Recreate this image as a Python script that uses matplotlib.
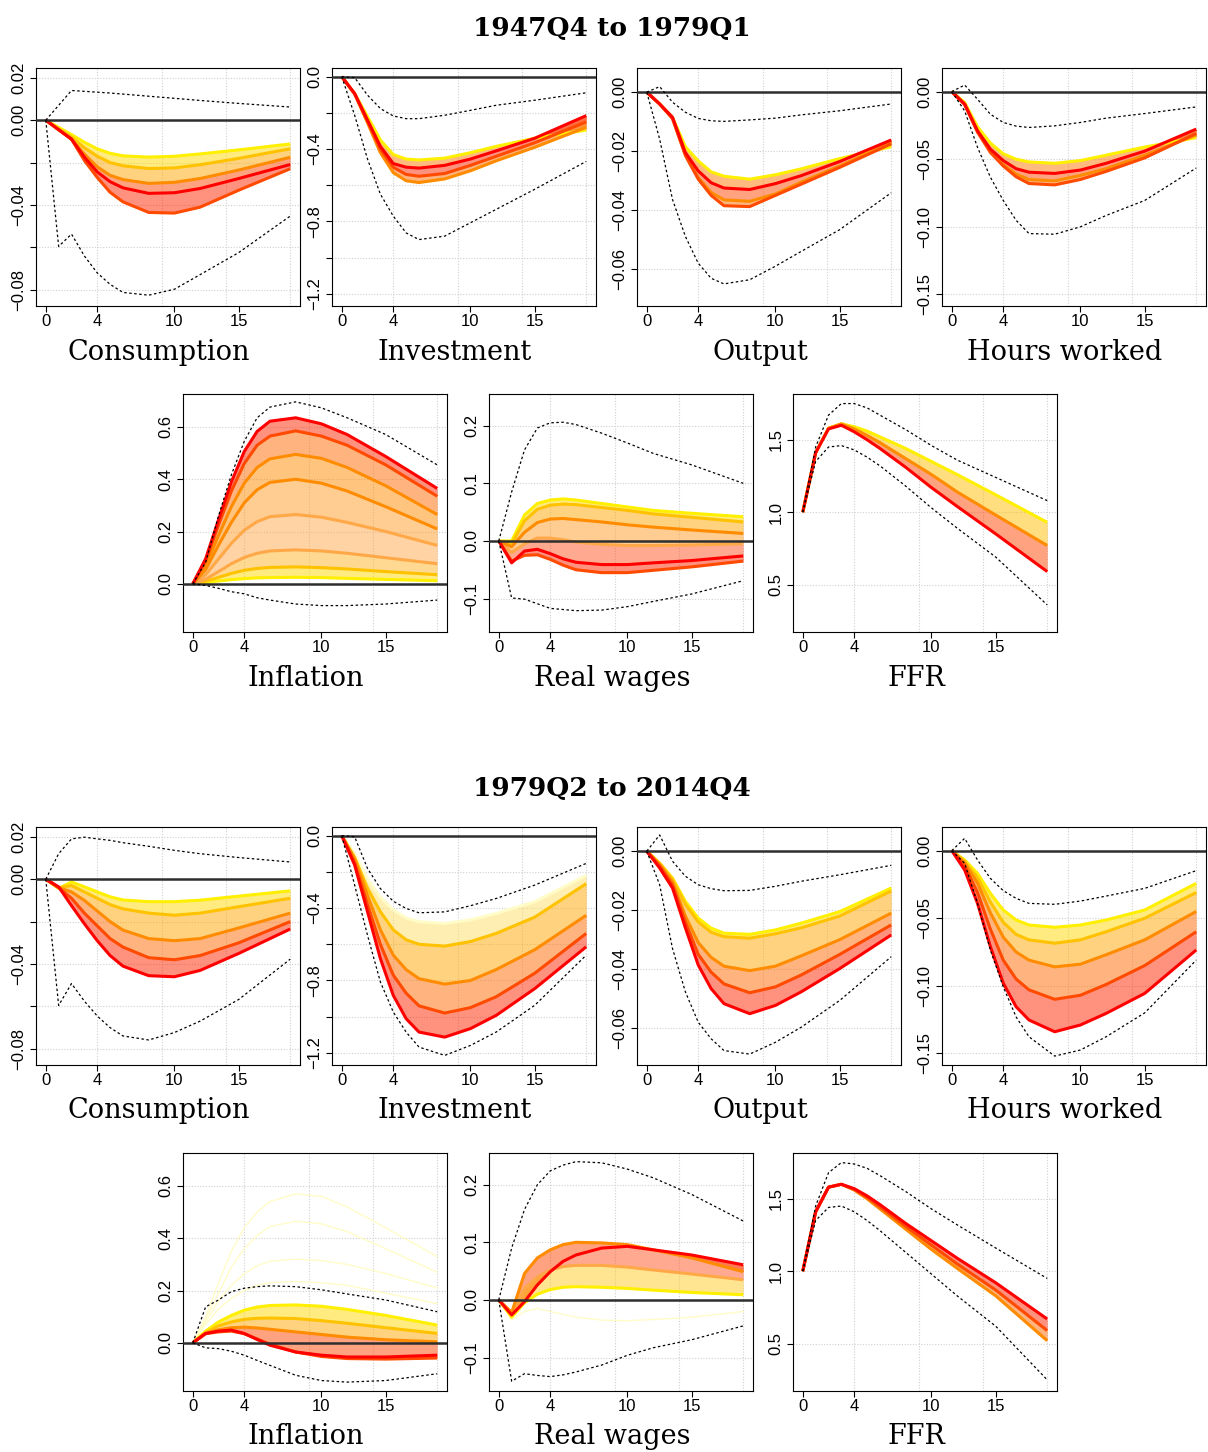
import matplotlib
matplotlib.use("Agg")
import matplotlib.pyplot as plt
import matplotlib.colors as mcolors
import numpy as np

H = [0, 1, 2, 3, 4, 5, 6, 8, 10, 12, 15, 19]

# ---------------- 1947Q4 to 1979Q1 ----------------
cons_a_hi = [0, 0.007, 0.014, 0.0136, 0.0132, 0.0128, 0.0123, 0.0113, 0.0103, 0.0093, 0.0079, 0.0062]
cons_a_lo = [0, -0.0595, -0.0537, -0.064, -0.072, -0.0774, -0.0812, -0.0825, -0.0797, -0.0728, -0.0624, -0.0452]
cons_a = [
    [0, -0.0034, -0.0068, -0.0104, -0.0135, -0.0156, -0.0168, -0.0174, -0.0170, -0.0159, -0.0140, -0.0112],
    [0, -0.0040, -0.0080, -0.0130, -0.0170, -0.0200, -0.0215, -0.0228, -0.0225, -0.0210, -0.0180, -0.0135],
    [0, -0.0045, -0.0090, -0.0160, -0.0220, -0.0260, -0.0280, -0.0298, -0.0293, -0.0275, -0.0235, -0.0175],
    [0, -0.0045, -0.0089, -0.0174, -0.0244, -0.0290, -0.0319, -0.0345, -0.0342, -0.0322, -0.0275, -0.0209],
    [0, -0.0045, -0.0090, -0.0190, -0.0270, -0.0340, -0.0385, -0.0435, -0.0438, -0.0410, -0.0330, -0.0229],
]
cons_a_col = ['y', 'g', 'o', 'r', 'ro']

inv_a_hi = [0, -0.005, -0.102, -0.176, -0.217, -0.232, -0.232, -0.213, -0.186, -0.158, -0.130, -0.089]
inv_a_lo = [0, -0.213, -0.455, -0.649, -0.770, -0.863, -0.900, -0.881, -0.807, -0.733, -0.622, -0.468]
inv_a = [
    [0, -0.093, -0.220, -0.350, -0.430, -0.455, -0.460, -0.450, -0.420, -0.385, -0.340, -0.295],
    [0, -0.093, -0.240, -0.385, -0.480, -0.500, -0.505, -0.490, -0.455, -0.410, -0.340, -0.215],
    [0, -0.095, -0.245, -0.400, -0.500, -0.540, -0.550, -0.535, -0.490, -0.440, -0.365, -0.250],
    [0, -0.095, -0.255, -0.420, -0.530, -0.575, -0.585, -0.565, -0.520, -0.465, -0.390, -0.280],
]
inv_a_col = ['y', 'r', 'ro', 'o']

out_a_hi = [0, 0.0019, -0.0034, -0.0068, -0.0089, -0.0097, -0.0099, -0.0094, -0.0088, -0.0077, -0.0063, -0.0040]
out_a_lo = [0, -0.0159, -0.0364, -0.0489, -0.0580, -0.0631, -0.0650, -0.0636, -0.0590, -0.0540, -0.0466, -0.0341]
out_a = [
    [0, -0.0040, -0.0085, -0.0185, -0.0233, -0.0270, -0.0285, -0.0295, -0.0280, -0.0260, -0.0225, -0.0185],
    [0, -0.0040, -0.0085, -0.0205, -0.0267, -0.0307, -0.0325, -0.0330, -0.0310, -0.0283, -0.0235, -0.0162],
    [0, -0.0040, -0.0088, -0.0210, -0.0290, -0.0340, -0.0365, -0.0370, -0.0345, -0.0305, -0.0250, -0.0172],
    [0, -0.0040, -0.0090, -0.0215, -0.0295, -0.0350, -0.0385, -0.0388, -0.0350, -0.0312, -0.0255, -0.0175],
]
out_a_col = ['y', 'r', 'o', 'ro']

hrs_a_hi = [0, 0.0049, -0.0056, -0.0167, -0.0228, -0.0255, -0.0265, -0.0253, -0.0228, -0.0196, -0.0162, -0.0113]
hrs_a_lo = [0, -0.0142, -0.0412, -0.0633, -0.0805, -0.0952, -0.1050, -0.1055, -0.1000, -0.0916, -0.0805, -0.0565]
hrs_a = [
    [0, -0.0080, -0.0260, -0.0380, -0.0460, -0.0500, -0.0520, -0.0530, -0.0510, -0.0470, -0.0410, -0.0340],
    [0, -0.0093, -0.0290, -0.0425, -0.0510, -0.0570, -0.0596, -0.0605, -0.0580, -0.0530, -0.0440, -0.0277],
    [0, -0.0090, -0.0290, -0.0440, -0.0540, -0.0610, -0.0650, -0.0660, -0.0620, -0.0570, -0.0470, -0.0320],
    [0, -0.0095, -0.0300, -0.0450, -0.0550, -0.0630, -0.0680, -0.0690, -0.0650, -0.0590, -0.0490, -0.0310],
]
hrs_a_col = ['y', 'r', 'o', 'ro']

inf_a_hi = [0, 0.083, 0.260, 0.417, 0.545, 0.635, 0.676, 0.696, 0.673, 0.635, 0.571, 0.455]
inf_a_lo = [0, -0.006, -0.017, -0.030, -0.038, -0.053, -0.062, -0.077, -0.083, -0.083, -0.077, -0.062]
inf_a = [
    [0, 0.096, 0.245, 0.390, 0.506, 0.583, 0.622, 0.635, 0.612, 0.571, 0.487, 0.365],
    [0, 0.088, 0.225, 0.355, 0.460, 0.530, 0.565, 0.585, 0.565, 0.530, 0.455, 0.335],
    [0, 0.070, 0.185, 0.295, 0.385, 0.445, 0.478, 0.495, 0.480, 0.445, 0.375, 0.265],
    [0, 0.055, 0.148, 0.235, 0.310, 0.360, 0.388, 0.400, 0.385, 0.355, 0.295, 0.210],
    [0, 0.035, 0.095, 0.155, 0.205, 0.238, 0.257, 0.265, 0.255, 0.235, 0.200, 0.147],
    [0, 0.018, 0.047, 0.077, 0.101, 0.117, 0.126, 0.130, 0.126, 0.117, 0.100, 0.077],
    [0, 0.010, 0.025, 0.040, 0.052, 0.059, 0.063, 0.065, 0.062, 0.057, 0.047, 0.035],
    [0, 0.005, 0.011, 0.016, 0.020, 0.023, 0.024, 0.025, 0.024, 0.021, 0.017, 0.012],
]
inf_a_col = ['r', 'ro', 'o', 'o', 'lo', 'lo', 'g', 'y']

rw_a_hi = [0, 0.085, 0.158, 0.196, 0.205, 0.206, 0.202, 0.187, 0.170, 0.152, 0.132, 0.100]
rw_a_lo = [0, -0.099, -0.101, -0.109, -0.117, -0.119, -0.121, -0.120, -0.114, -0.105, -0.092, -0.069]
rw_a = [
    [0, 0.000, 0.045, 0.065, 0.071, 0.073, 0.071, 0.065, 0.059, 0.053, 0.048, 0.042],
    [0, -0.005, 0.035, 0.055, 0.062, 0.064, 0.063, 0.058, 0.053, 0.047, 0.041, 0.033],
    [0, -0.010, 0.015, 0.032, 0.038, 0.039, 0.037, 0.033, 0.028, 0.024, 0.019, 0.013],
    [0, -0.020, -0.005, 0.005, 0.005, 0.002, -0.002, -0.006, -0.008, -0.008, -0.007, -0.005],
    [0, -0.038, -0.0175, -0.0145, -0.022, -0.031, -0.037, -0.041, -0.041, -0.038, -0.034, -0.026],
    [0, -0.035, -0.025, -0.024, -0.032, -0.042, -0.050, -0.055, -0.055, -0.051, -0.045, -0.035],
]
rw_a_col = ['y', 'g', 'o', 'lo', 'r', 'ro']

ffr_a_hi = [1.0, 1.45, 1.67, 1.75, 1.75, 1.72, 1.67, 1.57, 1.46, 1.36, 1.24, 1.08]
ffr_a_lo = [1.0, 1.35, 1.45, 1.46, 1.43, 1.38, 1.32, 1.18, 1.03, 0.89, 0.69, 0.36]
ffr_a = [
    [1.0, 1.41, 1.58, 1.61, 1.59, 1.56, 1.52, 1.44, 1.35, 1.26, 1.12, 0.93],
    [1.0, 1.41, 1.58, 1.61, 1.575, 1.53, 1.48, 1.37, 1.26, 1.14, 0.98, 0.77],
    [1.0, 1.41, 1.575, 1.60, 1.555, 1.50, 1.44, 1.31, 1.17, 1.04, 0.85, 0.59],
]
ffr_a_col = ['y', 'o', 'r']

# ---------------- 1979Q2 to 2014Q4 ----------------
cons_b_hi = [0, 0.012, 0.019, 0.0198, 0.019, 0.0183, 0.0172, 0.0155, 0.0136, 0.0120, 0.0102, 0.0081]
cons_b_lo = [0, -0.0595, -0.0492, -0.0575, -0.0645, -0.0700, -0.0739, -0.0758, -0.0723, -0.0669, -0.0567, -0.0377]
cons_b = [
    [0, -0.0044, -0.0013, -0.0036, -0.0060, -0.0083, -0.0098, -0.0106, -0.0106, -0.0099, -0.0080, -0.0055],
    [0, -0.0040, -0.0030, -0.0060, -0.0090, -0.0120, -0.0140, -0.0160, -0.0170, -0.0160, -0.0130, -0.0090],
    [0, -0.0040, -0.0060, -0.0100, -0.0150, -0.0200, -0.0240, -0.0280, -0.0290, -0.0280, -0.0230, -0.0160],
    [0, -0.0040, -0.0090, -0.0160, -0.0220, -0.0280, -0.0320, -0.0370, -0.0380, -0.0360, -0.0300, -0.0200],
    [0, -0.0036, -0.0125, -0.0210, -0.0290, -0.0360, -0.0410, -0.0455, -0.0460, -0.0430, -0.0350, -0.0235],
]
cons_b_col = ['y', 'g', 'o', 'ro', 'r']

inv_b_hi = [0, -0.006, -0.181, -0.292, -0.362, -0.402, -0.426, -0.421, -0.387, -0.347, -0.273, -0.153]
inv_b_lo = [0, -0.273, -0.550, -0.808, -0.974, -1.085, -1.168, -1.214, -1.159, -1.085, -0.937, -0.660]
inv_b = [
    [0, -0.100, -0.240, -0.340, -0.410, -0.455, -0.475, -0.485, -0.465, -0.430, -0.365, -0.220],
    [0, -0.120, -0.290, -0.420, -0.520, -0.575, -0.600, -0.610, -0.585, -0.540, -0.450, -0.265],
    [0, -0.130, -0.330, -0.520, -0.660, -0.740, -0.790, -0.820, -0.800, -0.740, -0.630, -0.440],
    [0, -0.150, -0.380, -0.600, -0.770, -0.870, -0.940, -0.980, -0.950, -0.890, -0.760, -0.540],
    [0, -0.162, -0.420, -0.679, -0.882, -1.011, -1.085, -1.113, -1.066, -0.993, -0.845, -0.614],
]
inv_b_col = ['p', 'g', 'o', 'ro', 'r']

out_b_hi = [0, 0.0055, -0.0034, -0.0085, -0.0114, -0.0127, -0.0134, -0.0133, -0.0119, -0.0102, -0.0080, -0.0048]
out_b_lo = [0, -0.0114, -0.0330, -0.0477, -0.0580, -0.0636, -0.0676, -0.0688, -0.0648, -0.0597, -0.0506, -0.0358]
out_b = [
    [0, -0.0040, -0.0091, -0.0170, -0.0227, -0.0261, -0.0278, -0.0282, -0.0267, -0.0244, -0.0205, -0.0125],
    [0, -0.0042, -0.0095, -0.0180, -0.0240, -0.0275, -0.0290, -0.0295, -0.0280, -0.0260, -0.0220, -0.0135],
    [0, -0.0045, -0.0105, -0.0220, -0.0310, -0.0360, -0.0390, -0.0405, -0.0390, -0.0355, -0.0300, -0.0210],
    [0, -0.0050, -0.0115, -0.0240, -0.0350, -0.0410, -0.0450, -0.0480, -0.0460, -0.0420, -0.0350, -0.0250],
    [0, -0.0057, -0.0125, -0.0260, -0.0386, -0.0466, -0.0517, -0.0551, -0.0523, -0.0477, -0.0398, -0.0284],
]
out_b_col = ['y', 'g', 'o', 'ro', 'r']

hrs_b_hi = [0, 0.0091, -0.0069, -0.0205, -0.0296, -0.0353, -0.0390, -0.0397, -0.0373, -0.0336, -0.0279, -0.0148]
hrs_b_lo = [0, -0.0094, -0.0390, -0.0735, -0.1007, -0.1230, -0.1377, -0.1520, -0.1475, -0.1377, -0.1200, -0.0810]
hrs_b = [
    [0, -0.0069, -0.0168, -0.0316, -0.0439, -0.0513, -0.0550, -0.0567, -0.0550, -0.0513, -0.0439, -0.0242],
    [0, -0.0080, -0.0200, -0.0380, -0.0530, -0.0620, -0.0660, -0.0685, -0.0660, -0.0600, -0.0500, -0.0310],
    [0, -0.0090, -0.0240, -0.0460, -0.0640, -0.0750, -0.0810, -0.0860, -0.0840, -0.0770, -0.0660, -0.0450],
    [0, -0.0110, -0.0310, -0.0580, -0.0810, -0.0950, -0.1030, -0.1100, -0.1070, -0.0990, -0.0850, -0.0600],
    [0, -0.0143, -0.0390, -0.0710, -0.0980, -0.1155, -0.1253, -0.1340, -0.1290, -0.1204, -0.1056, -0.0735],
]
hrs_b_col = ['y', 'g', 'o', 'ro', 'r']

inf_b_hi = [0, 0.138, 0.164, 0.196, 0.209, 0.215, 0.218, 0.215, 0.203, 0.187, 0.164, 0.119]
inf_b_lo = [0, -0.019, -0.022, -0.032, -0.047, -0.067, -0.086, -0.124, -0.144, -0.150, -0.144, -0.118]
inf_b = [
    [0, 0.045, 0.080, 0.105, 0.125, 0.137, 0.143, 0.145, 0.140, 0.128, 0.105, 0.068],
    [0, 0.040, 0.065, 0.080, 0.090, 0.094, 0.095, 0.093, 0.085, 0.075, 0.058, 0.036],
    [0, 0.037, 0.050, 0.058, 0.060, 0.057, 0.052, 0.042, 0.032, 0.022, 0.012, 0.004],
    [0, 0.036, 0.045, 0.049, 0.036, 0.013, -0.009, -0.035, -0.047, -0.054, -0.054, -0.047],
    [0, 0.035, 0.042, 0.045, 0.035, 0.015, -0.005, -0.035, -0.052, -0.060, -0.062, -0.058],
]
inf_b_col = ['y', 'g', 'o', 'r', 'ro']
inf_b_pale = [
    [0, 0.100, 0.230, 0.350, 0.440, 0.500, 0.540, 0.570, 0.560, 0.520, 0.440, 0.330],
    [0, 0.090, 0.190, 0.290, 0.360, 0.410, 0.445, 0.465, 0.455, 0.425, 0.360, 0.270],
    [0, 0.080, 0.160, 0.220, 0.265, 0.295, 0.312, 0.320, 0.315, 0.300, 0.265, 0.210],
    [0, 0.070, 0.130, 0.170, 0.200, 0.220, 0.230, 0.235, 0.230, 0.220, 0.190, 0.150],
]

rw_b_hi = [0, 0.090, 0.157, 0.200, 0.224, 0.234, 0.240, 0.238, 0.227, 0.212, 0.183, 0.137]
rw_b_lo = [0, -0.141, -0.128, -0.131, -0.133, -0.130, -0.125, -0.113, -0.096, -0.083, -0.069, -0.045]
rw_b = [
    [0, -0.022, 0.046, 0.073, 0.087, 0.096, 0.100, 0.099, 0.096, 0.087, 0.073, 0.049],
    [0, -0.026, -0.003, 0.026, 0.049, 0.067, 0.078, 0.090, 0.093, 0.087, 0.078, 0.061],
    [0, -0.022, 0.020, 0.040, 0.052, 0.058, 0.060, 0.060, 0.057, 0.052, 0.045, 0.035],
    [0, -0.030, -0.005, 0.010, 0.018, 0.022, 0.023, 0.022, 0.020, 0.017, 0.013, 0.009],
]
rw_b_col = ['o', 'r', 'lo', 'y']
rw_b_pale = [
    [0, -0.035, -0.020, -0.015, -0.020, -0.025, -0.030, -0.035, -0.036, -0.034, -0.030, -0.020],
]

ffr_b_hi = [1.0, 1.45, 1.68, 1.75, 1.74, 1.71, 1.66, 1.55, 1.43, 1.32, 1.16, 0.95]
ffr_b_lo = [1.0, 1.35, 1.44, 1.45, 1.41, 1.35, 1.28, 1.13, 0.98, 0.83, 0.62, 0.25]
ffr_b = [
    [1.0, 1.41, 1.58, 1.60, 1.57, 1.52, 1.46, 1.33, 1.21, 1.09, 0.92, 0.67],
    [1.0, 1.41, 1.58, 1.60, 1.565, 1.51, 1.445, 1.31, 1.18, 1.05, 0.87, 0.59],
    [1.0, 1.41, 1.58, 1.60, 1.56, 1.50, 1.43, 1.29, 1.15, 1.02, 0.83, 0.52],
]
ffr_b_col = ['r', 'ro', 'o']

# y axes (limits, ticks, tick labels)
M = '\u2212'
cons_ax = ((-0.0876, 0.0246), [0.02, 0.0, -0.02, -0.04, -0.06, -0.08],
           ['0.02', '0.00', '', M + '0.04', '', M + '0.08'])
inv_ax = ((-1.267, 0.048), [0.0, -0.2, -0.4, -0.6, -0.8, -1.0, -1.2],
          ['0.0', '', M + '0.4', '', M + '0.8', '', M + '1.2'])
out_ax = ((-0.0725, 0.0082), [0.0, -0.02, -0.04, -0.06],
          ['0.00', M + '0.02', M + '0.04', M + '0.06'])
hrs_ax = ((-0.1586, 0.0175), [0.0, -0.05, -0.10, -0.15],
          ['0.00', M + '0.05', M + '0.10', M + '0.15'])
inf_ax = ((-0.184, 0.726), [0.0, 0.2, 0.4, 0.6], ['0.0', '0.2', '0.4', '0.6'])
rw_ax = ((-0.158, 0.255), [-0.1, 0.0, 0.1, 0.2], [M + '0.1', '0.0', '0.1', '0.2'])
ffr_ax = ((0.173, 1.816), [0.5, 1.0, 1.5], ['0.5', '1.0', '1.5'])

# ---------------- styling ----------------
PAL = {'p': '#FFFCC8', 'y': '#FFEF00', 'g': '#FFC200', 'lo': '#FFA848',
       'o': '#FF8C00', 'ro': '#FF4A00', 'r': '#FF0000'}
RANK = {'p': 0, 'y': 1, 'g': 2, 'lo': 3, 'o': 4, 'ro': 5, 'r': 6}
TICK_FONT = 'Liberation Sans'
SERIF = 'DejaVu Serif'

W, HP = 1208, 1452
fig = plt.figure(figsize=(W / 100, HP / 100), dpi=100)


def blend(a, b):
    ca, cb = np.array(mcolors.to_rgb(PAL[a])), np.array(mcolors.to_rgb(PAL[b]))
    return tuple((ca + cb) / 2)


def panel(left, top, label, hi, lo, irfs, cols, yax, pale=None, zero=True):
    w, h = 264, 238
    ax = fig.add_axes([left / W, 1 - (top + h) / HP, w / W, h / HP])
    ylim, yticks, ylabels = yax
    ax.set_xlim(-0.76, 19.76)
    ax.set_ylim(*ylim)

    # light dotted grid like R's grid()
    for gx in [4, 9, 14, 19]:
        ax.axvline(gx, color='#D0D0D0', lw=0.8, ls=(0, (1, 1.5)), zorder=0)
    for gy in yticks:
        ax.axhline(gy, color='#D0D0D0', lw=0.8, ls=(0, (1, 1.5)), zorder=0)

    if pale:
        for c in pale:
            ax.plot(H, c, color=PAL['p'], lw=1.0, zorder=1)

    for i in range(len(irfs) - 1):
        ax.fill_between(H, irfs[i], irfs[i + 1], color=blend(cols[i], cols[i + 1]),
                        alpha=0.5, lw=0, zorder=2)
    for c, col in zip(irfs, cols):
        ax.plot(H, c, color=PAL[col], lw=2.2, zorder=3 + RANK[col],
                solid_capstyle='butt', solid_joinstyle='round')

    if zero:
        ax.axhline(0, color='#2E2E2E', lw=1.8, zorder=20)
    ax.plot(H, hi, color='black', lw=0.9, ls=(0, (2, 2)), zorder=21)
    ax.plot(H, lo, color='black', lw=0.9, ls=(0, (2, 2)), zorder=21)

    ax.set_xticks([0, 4, 10, 15])
    ax.set_xticklabels(['0', '4', '10', '15'], family=TICK_FONT, fontsize=12)
    ax.set_yticks(yticks)
    ax.set_yticklabels(ylabels, rotation=90, va='center', family=TICK_FONT, fontsize=12)
    ax.tick_params(direction='out', length=4.5, width=0.8, pad=1.0)
    ax.tick_params(axis='y', pad=2.5)
    for s in ax.spines.values():
        s.set_linewidth(0.8)
        s.set_color('black')

    fig.text((left + w / 2 - 9) / W, 1 - (top + h + 46) / HP, label,
             ha='center', va='center', fontsize=19.5, family=SERIF)
    return ax


def period(top1, top2, title, ty, data):
    fig.text(612 / W, 1 - ty / HP, title, ha='center', va='center',
             fontsize=19, fontweight='bold', family=SERIF)
    lefts1 = [36, 332, 637, 942]
    lefts2 = [183, 489, 793]
    for left, d in zip(lefts1, data[:4]):
        panel(left, top1, *d)
    for left, d in zip(lefts2, data[4:]):
        panel(left, top2, *d)


period(68, 394, '1947Q4 to 1979Q1', 28, [
    ('Consumption', cons_a_hi, cons_a_lo, cons_a, cons_a_col, cons_ax),
    ('Investment', inv_a_hi, inv_a_lo, inv_a, inv_a_col, inv_ax),
    ('Output', out_a_hi, out_a_lo, out_a, out_a_col, out_ax),
    ('Hours worked', hrs_a_hi, hrs_a_lo, hrs_a, hrs_a_col, hrs_ax),
    ('Inflation', inf_a_hi, inf_a_lo, inf_a, inf_a_col, inf_ax),
    ('Real wages', rw_a_hi, rw_a_lo, rw_a, rw_a_col, rw_ax),
    ('FFR', ffr_a_hi, ffr_a_lo, ffr_a, ffr_a_col, ffr_ax, None, False),
])

period(827, 1153, '1979Q2 to 2014Q4', 789, [
    ('Consumption', cons_b_hi, cons_b_lo, cons_b, cons_b_col, cons_ax),
    ('Investment', inv_b_hi, inv_b_lo, inv_b, inv_b_col, inv_ax),
    ('Output', out_b_hi, out_b_lo, out_b, out_b_col, out_ax),
    ('Hours worked', hrs_b_hi, hrs_b_lo, hrs_b, hrs_b_col, hrs_ax),
    ('Inflation', inf_b_hi, inf_b_lo, inf_b, inf_b_col, inf_ax, inf_b_pale),
    ('Real wages', rw_b_hi, rw_b_lo, rw_b, rw_b_col, rw_ax, rw_b_pale),
    ('FFR', ffr_b_hi, ffr_b_lo, ffr_b, ffr_b_col, ffr_ax, None, False),
])

fig.savefig('out.png', dpi=100)
